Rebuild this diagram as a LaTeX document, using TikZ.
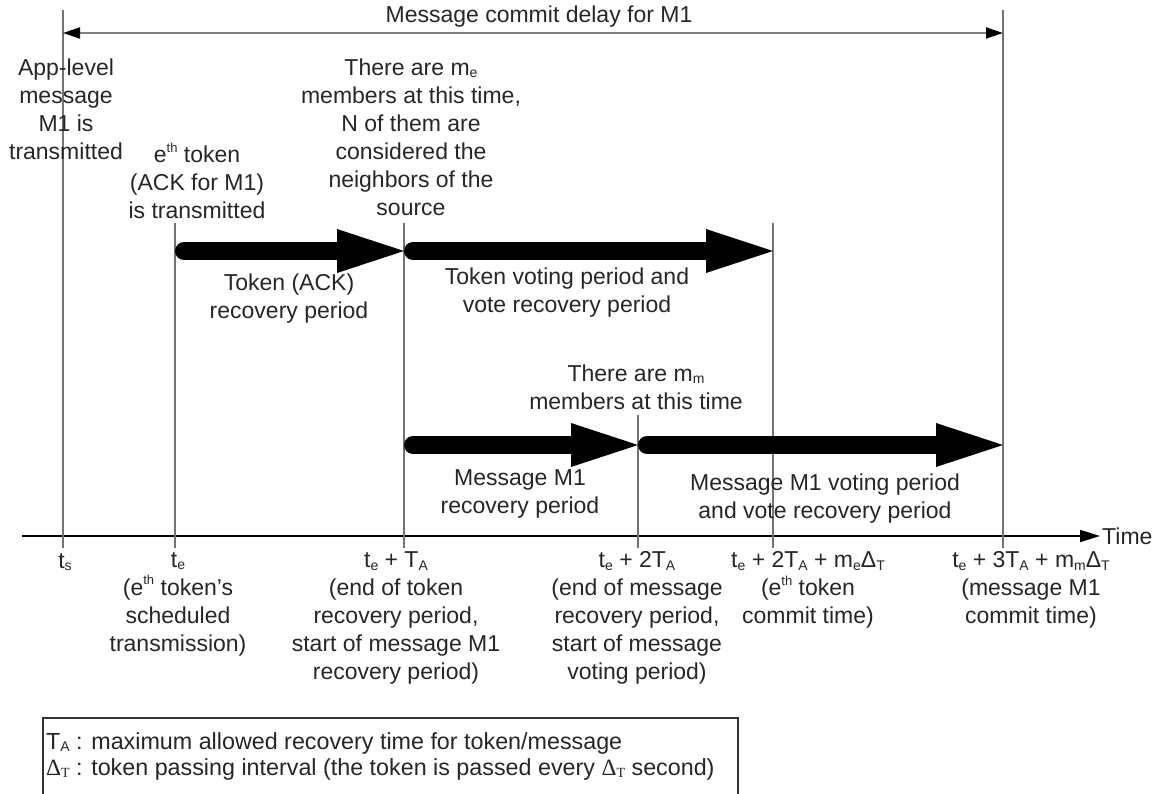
\documentclass[tikz,border=0pt]{standalone}
\usepackage{fontspec}
\setmainfont{Liberation Sans}
\newfontfamily\legendgreek{Liberation Serif}
\usetikzlibrary{arrows.meta,calc}
% small lowered / raised text for indices
\newcommand\lo[1]{\raisebox{-0.22ex}{\fontsize{14}{14}\selectfont #1}}
\newcommand\hi[1]{\raisebox{0.85ex}{\fontsize{13}{13}\selectfont #1}}

\begin{document}
\begin{tikzpicture}[x=1pt,y=-1pt,
  lbl/.style={font=\fontsize{23}{28}\selectfont, text=black!85, align=center, inner sep=0pt},
  tline/.style={draw=black!55, line width=1.4pt},
  axisline/.style={draw=black, line width=2pt, -{Triangle[length=20pt,width=12pt]}},
  spanline/.style={draw=black!50, line width=1.8pt,
    {Triangle[length=17pt,width=11pt,color=black]}-{Triangle[length=17pt,width=11pt,color=black]}},
  bigarrow/.style={draw=black, line width=18pt, line cap=round,
    -{Triangle[length=67pt,width=44pt,line width=0pt]}},
  legendbox/.style={draw=black!80, line width=1.3pt}
]
\useasboundingbox (0,0) rectangle (1165,794);
\clip (0,0) rectangle (1165,794);

% time instants on the axis
\coordinate (ts)    at (63,536);
\coordinate (te)    at (175,536);
\coordinate (teTA)  at (404,536);
\coordinate (te2TA) at (638,536);
\coordinate (teme)  at (773,536);
\coordinate (te3TA) at (1003,536);
\coordinate (axL)   at (22,536);
\coordinate (axR)   at (1100,536);

% heights of the rows
\coordinate (top)   at (0,10);
\coordinate (span)  at (0,33);
\coordinate (upper) at (0,223);
\coordinate (lower) at (0,415);
\coordinate (rowA)  at (0,251);
\coordinate (rowB)  at (0,445);

% time axis
\draw[axisline] (axL) -- (axR);
\node[lbl, anchor=west] (time) at ($(axR)+(2,0)$) {Time};

% vertical markers with ticks below the axis
\draw[tline] (ts |- top)     -- ($(ts)+(0,12)$);
\draw[tline] (te |- upper)   -- ($(te)+(0,12)$);
\draw[tline] (teTA |- upper) -- ($(teTA)+(0,12)$);
\draw[tline] (te2TA |- lower) -- ($(te2TA)+(0,12)$);
\draw[tline] (teme |- upper) -- ($(teme)+(0,12)$);
\draw[tline] (te3TA |- top)  -- ($(te3TA)+(0,12)$);

% overall delay
\draw[spanline] (ts |- span) -- (te3TA |- span);
\node[lbl] (delay) at (539,17) {Message commit delay for M1};

% periods
\draw[bigarrow] ($(te |- rowA)+(9,0)$)    -- (teTA |- rowA);
\draw[bigarrow] ($(teTA |- rowA)+(9,0)$)  -- (teme |- rowA);
\draw[bigarrow] ($(teTA |- rowB)+(9,0)$)  -- (te2TA |- rowB);
\draw[bigarrow] ($(te2TA |- rowB)+(9,0)$) -- (te3TA |- rowB);

% event descriptions
\node[lbl] (applevel) at (66,109) {App-level\\message\\M1 is\\transmitted};
\node[lbl] (eth) at (197,181) {e\hi{th} token\\(ACK for M1)\\is transmitted};
\node[lbl] (membersE) at (411,137) {There are m\lo{e}\\members at this time,\\N of them are\\considered the\\neighbors of the\\source};
\node[lbl] (tokrec) at (289,299) {Token (ACK)\\recovery period};
\node[lbl] (tokvote) at (567,293) {Token voting period and\\vote recovery period};
\node[lbl] (membersM) at (636,387) {There are m\lo{m}\\members at this time};
\node[lbl] (msgrec) at (520,494) {Message M1\\recovery period};
\node[lbl] (msgvote) at (825,499) {Message M1 voting period\\and vote recovery period};

% axis labels
\node[lbl] (lts) at (65,562) {t\lo{s}};
\node[lbl] (lte) at (178,604) {t\lo{e}\\(e\hi{th} token's\\scheduled\\transmission)};
\node[lbl] (lteTA) at (396,618) {t\lo{e} + T\lo{A}\\(end of token\\recovery period,\\start of message M1\\recovery period)};
\node[lbl] (lte2TA) at (637,618) {t\lo{e} + 2T\lo{A}\\(end of message\\recovery period,\\start of message\\voting period)};
\node[lbl] (lteme) at (808,590) {t\lo{e} + 2T\lo{A} + m\lo{e}Δ\lo{T}\\(e\hi{th} token\\commit time)};
\node[lbl] (lte3TA) at (1031,590) {t\lo{e} + 3T\lo{A} + m\lo{m}Δ\lo{T}\\(message M1\\commit time)};

% legend
\draw[legendbox] (43,800) |- (738,718) -- (738,800);
\node[lbl, align=left, anchor=west, font=\fontsize{23.3}{26}\selectfont] (legend) at (46,756)
  {T\lo{A} : maximum allowed recovery time for token/message\\
   {\legendgreek Δ}\lo{\legendgreek T} : token passing interval (the token is passed every {\legendgreek Δ}\lo{\legendgreek T} second)};
\end{tikzpicture}
\end{document}
